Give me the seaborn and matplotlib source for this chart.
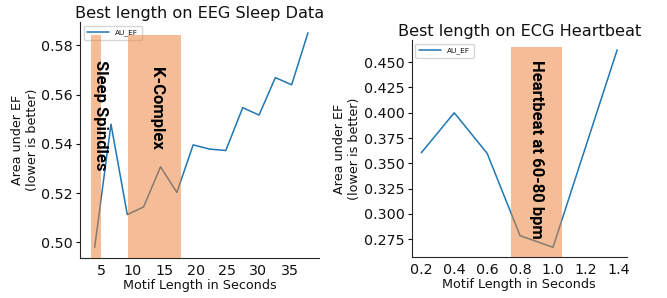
import numpy as np
import pandas as pd
import matplotlib
matplotlib.use("Agg")
import matplotlib.pyplot as plt
import seaborn as sns

# EEG sleep data
eeg_len = [3.9, 6.5, 9.1, 11.7, 14.4, 17.0, 19.6, 22.2, 24.8, 27.5, 30.1, 32.7, 35.3, 37.9]
eeg_auef = [0.498, 0.548, 0.5113, 0.5144, 0.5307, 0.5203, 0.5396, 0.5379, 0.5373,
            0.5547, 0.5517, 0.5669, 0.5640, 0.5851]
eeg_span_start = [3.3, 9.2]
eeg_span_end = [4.9, 17.6]
eeg_span_top = 0.5841
eeg_span_text = ["Sleep Spindles", "K-Complex"]
eeg_text_x = [4.9, 13.8]
eeg_text_y = [0.5741, 0.5713]
eeg_xticks = [5, 10, 15, 20, 25, 30, 35]
eeg_yticks = [0.50, 0.52, 0.54, 0.56, 0.58]

# ECG heartbeat
ecg_len = [0.2, 0.4, 0.6, 0.8, 1.0, 1.39]
ecg_auef = [0.3605, 0.400, 0.3599, 0.2786, 0.2671, 0.4622]
ecg_span_start = [0.745]
ecg_span_end = [1.052]
ecg_span_top = 0.4654
ecg_span_text = ["Heartbeat at 60-80 bpm"]
ecg_text_x = [0.897]
ecg_text_y = [0.452]
ecg_xticks = [0.2, 0.4, 0.6, 0.8, 1.0, 1.2, 1.4]
ecg_yticks = [0.275, 0.300, 0.325, 0.350, 0.375, 0.400, 0.425, 0.450]

sns.set_style("ticks")
plt.rcParams.update({"text.color": "#111111", "axes.labelcolor": "#111111",
                     "xtick.color": "#111111", "ytick.color": "#111111"})
span_color = "#ED7D31"

fig = plt.figure(figsize=(6.67, 2.98), dpi=100)
ax1 = fig.add_axes([0.120, 0.134, 0.358, 0.792])
ax2 = fig.add_axes([0.617, 0.137, 0.323, 0.729])


def draw(ax, xs, ys, title, starts, ends, top, texts, tx, ty):
    df = pd.DataFrame({"len": xs, "AU_EF": ys})
    sns.lineplot(data=df, x="len", y="AU_EF", ax=ax, label="AU_EF",
                 color="#1f77b4", linewidth=1.1)
    ax.legend(loc="upper left", fontsize=5.3, handlelength=3.0,
              borderpad=0.5, framealpha=0.8)
    ax.set_title(title, fontsize=11.6, pad=3)
    ax.set_xlabel("Motif Length in Seconds", fontsize=9.2, labelpad=1)
    ax.set_ylabel("Area under EF\n(lower is better)", fontsize=9.2, labelpad=2)
    ax.tick_params(labelsize=10.3, pad=2)
    ax.tick_params(axis="x", length=0, pad=4)
    ax.tick_params(axis="y", length=3)
    sns.despine(ax=ax)
    lo, hi = ax.get_ylim()
    for s, e in zip(starts, ends):
        ax.axvspan(s, e, ymin=0, ymax=(top - lo) / (hi - lo), color=span_color,
                   alpha=0.5, lw=0, zorder=6)
    for t, x, y in zip(texts, tx, ty):
        ax.text(x, y, t, rotation=270, ha="center", va="top", fontsize=12,
                family="Roboto", fontweight="bold", color="black", zorder=7)


draw(ax1, eeg_len, eeg_auef, "Best length on EEG Sleep Data",
     eeg_span_start, eeg_span_end, eeg_span_top, eeg_span_text,
     eeg_text_x, eeg_text_y)
ax1.set_xticks(eeg_xticks)
ax1.set_yticks(eeg_yticks)

draw(ax2, ecg_len, ecg_auef, "Best length on ECG Heartbeat",
     ecg_span_start, ecg_span_end, ecg_span_top, ecg_span_text,
     ecg_text_x, ecg_text_y)
ax2.set_xticks(ecg_xticks)
ax2.set_yticks(ecg_yticks)

fig.savefig("out.png", dpi=100)
